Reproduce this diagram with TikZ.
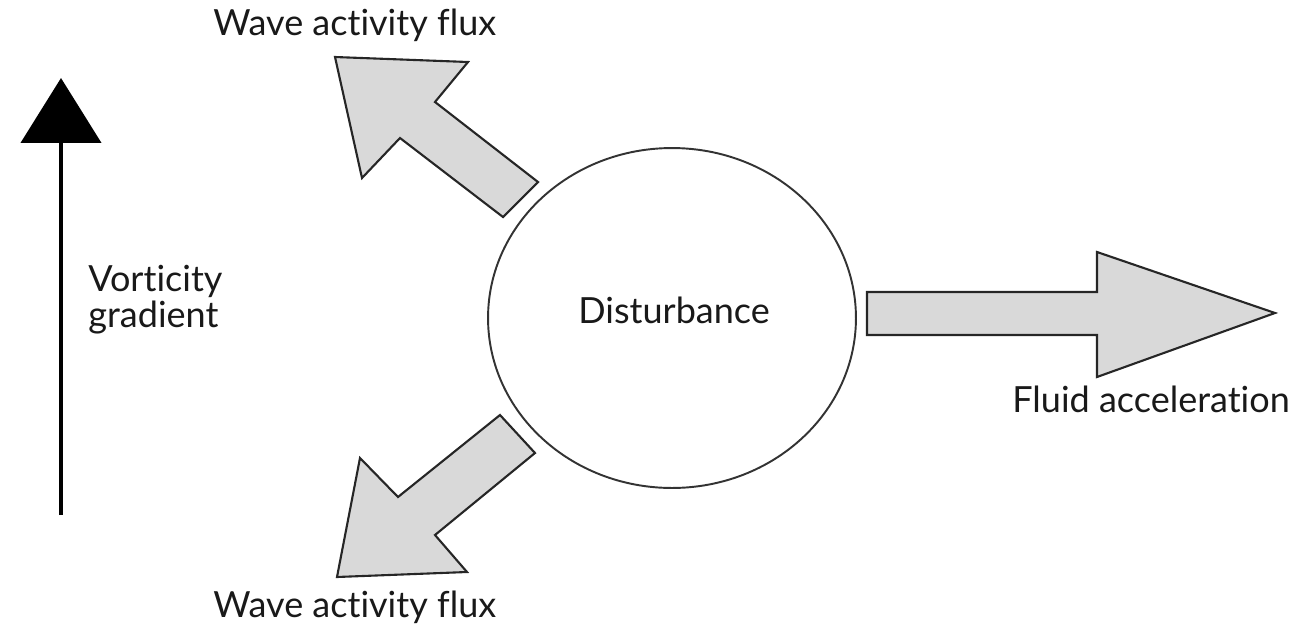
\documentclass[tikz,border=0pt]{standalone}
\usepackage{fontspec}
\setmainfont{Lato}[Ligatures=NoCommon]
\usetikzlibrary{positioning, arrows.meta, shapes.geometric}

\begin{document}
\begin{tikzpicture}[
  x=0.02cm, y=-0.02cm,
  font=\fontsize{20.5}{20}\selectfont,
  lbl/.style={inner sep=0pt, anchor=base west, text=black!90},
  dist/.style={ellipse, draw=black!80, line width=1.1pt, minimum width=7.36cm, minimum height=6.8cm},
  flux/.style={draw=black!85, fill=black!15, line width=1.2pt, line join=miter},
  grad/.style={-{Triangle[length=1.3cm, width=1.6cm]}, line width=2.6pt, black}]
\useasboundingbox (0,0) rectangle (1296,633);
% --- the disturbance ---
\node[dist] (D) at (672,318) {};
\node[lbl] (Dl) at (578,323) {Disturbance};
% --- vorticity gradient ---
\coordinate (vbot) at (61,515);
\coordinate (vtop) at (61,78);
\draw[grad] (vbot) -- (vtop);
\node[lbl, align=left] (V) at (88,327) {Vorticity\\gradient};
% --- block arrows ---
\draw[flux] (335,57) -- (468,62) -- (435,102) -- (538,182) -- (503,217) -- (400,138) -- (362,178) -- cycle;
\draw[flux] (500,415) -- (535,453) -- (435,535) -- (467,572) -- (337,577) -- (360,458) -- (398,497) -- cycle;
\draw[flux] (867,292) -- (1097,292) -- (1097,252) -- (1275,313) -- (1097,377) -- (1097,335) -- (867,335) -- cycle;
% labels
\node[lbl] (Wt) at (213,35) {Wave activity flux};
\node[lbl] (Wb) at (213,617) {Wave activity flux};
\node[lbl] (F) at (1012,412) {Fluid acceleration};
\end{tikzpicture}
\end{document}
